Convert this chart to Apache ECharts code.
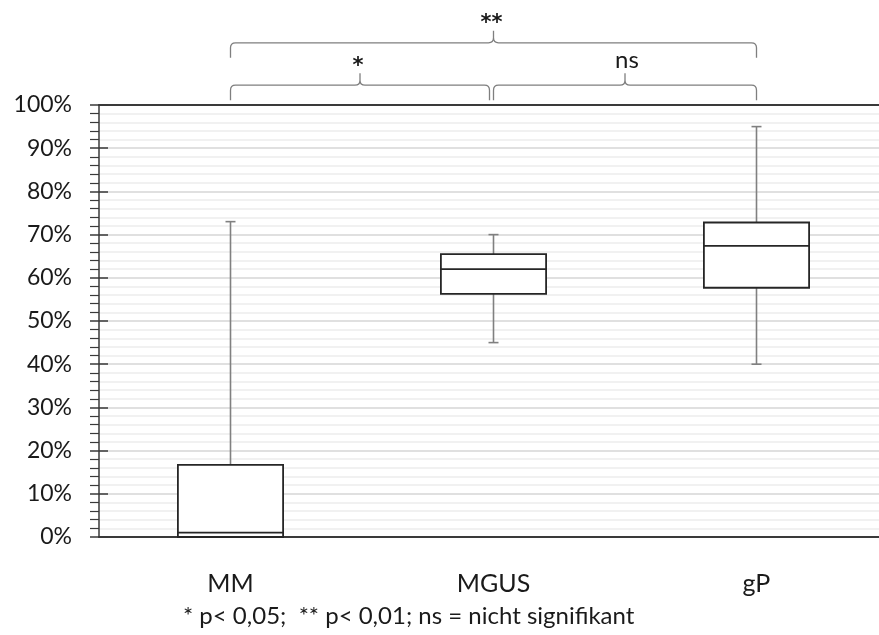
<!DOCTYPE html>
<html>
<head>
<meta charset="utf-8">
<script src="https://cdn.jsdelivr.net/npm/echarts@6/dist/echarts.min.js"></script>
<style>
html,body{margin:0;padding:0;background:#fff;}
#chart{width:879px;height:635px;}
</style>
</head>
<body>
<div id="chart"></div>
<script>
// ---- data ----
const categories = ['MM', 'MGUS', 'gP'];
const whiskerMin = [0.00, 0.45, 0.40];
const q1 = [0.00, 0.563, 0.577];
const median = [0.01, 0.62, 0.674];
const q3 = [0.167, 0.655, 0.728];
const whiskerMax = [0.73, 0.70, 0.95];
const yTickLabels = ['0%', '10%', '20%', '30%', '40%', '50%', '60%', '70%', '80%', '90%', '100%'];

// significance brackets
const bracketFrom = ['MM', 'MGUS', 'MM'];
const bracketTo = ['MGUS', 'gP', 'gP'];
const bracketLevel = [1.046, 1.046, 1.144];
const bracketLabel = ['*', 'ns', '**'];

const footnote = '* p< 0,05;  ** p< 0,01; ns = nicht signifikant';

// ---- chart ----
const FONT = 'Lato';
const chart = echarts.init(document.getElementById('chart'), null, {renderer: 'canvas'});

const boxData = categories.map((c, i) => [i, whiskerMin[i], q1[i], median[i], q3[i], whiskerMax[i]]);
const bracketData = bracketFrom.map((f, i) => [categories.indexOf(f), categories.indexOf(bracketTo[i]), bracketLevel[i], i]);

function renderBox(params, api) {
  const i = api.value(0);
  const x = api.coord([i, 0])[0];
  const pMin = api.coord([i, api.value(1)])[1];
  const pQ1 = api.coord([i, api.value(2)])[1];
  const pMed = api.coord([i, api.value(3)])[1];
  const pQ3 = api.coord([i, api.value(4)])[1];
  const pMax = api.coord([i, api.value(5)])[1];
  const w = api.size([1, 0])[0] * 0.4;
  const cap = 5;
  const whiskerStyle = {stroke: '#808080', lineWidth: 1.6};
  const boxStyle = {stroke: '#262626', lineWidth: 1.8, fill: null};
  const children = [];
  if (Math.abs(pQ3 - pMax) > 0.5) {
    children.push({type: 'line', shape: {x1: x, y1: pQ3, x2: x, y2: pMax}, style: whiskerStyle});
    children.push({type: 'line', shape: {x1: x - cap, y1: pMax, x2: x + cap, y2: pMax}, style: whiskerStyle});
  }
  if (Math.abs(pQ1 - pMin) > 0.5) {
    children.push({type: 'line', shape: {x1: x, y1: pQ1, x2: x, y2: pMin}, style: whiskerStyle});
    children.push({type: 'line', shape: {x1: x - cap, y1: pMin, x2: x + cap, y2: pMin}, style: whiskerStyle});
  }
  children.push({type: 'rect', shape: {x: x - w / 2, y: pQ3, width: w, height: pQ1 - pQ3},
    style: {fill: '#ffffff', stroke: '#262626', lineWidth: 1.8}});
  children.push({type: 'line', shape: {x1: x - w / 2, y1: pMed, x2: x + w / 2, y2: pMed}, style: boxStyle});
  return {type: 'group', children: children};
}

function renderBracket(params, api) {
  const fromIdx = api.value(0);
  const toIdx = api.value(1);
  const level = api.value(2);
  const k = api.value(3);
  let x1 = api.coord([fromIdx, level])[0];
  let x2 = api.coord([toIdx, level])[0];
  const yh = api.coord([fromIdx, level])[1];
  // leave a small gap where another bracket at the same level starts
  for (let j = 0; j < bracketFrom.length; j++) {
    if (j !== k && bracketLevel[j] === bracketLevel[k] && categories.indexOf(bracketFrom[j]) === toIdx) x2 -= 4;
  }
  const drop = 15, tip = 12, r = 5;
  const xm = (x1 + x2) / 2;
  const yb = yh + drop;
  const yt = yh - tip;
  const path = 'M' + x1 + ',' + yb +
    ' L' + x1 + ',' + (yh + r) +
    ' Q' + x1 + ',' + yh + ' ' + (x1 + r) + ',' + yh +
    ' L' + (xm - r) + ',' + yh +
    ' Q' + xm + ',' + yh + ' ' + xm + ',' + (yh - r) +
    ' L' + xm + ',' + yt +
    ' M' + xm + ',' + (yh - r) +
    ' Q' + xm + ',' + yh + ' ' + (xm + r) + ',' + yh +
    ' L' + (x2 - r) + ',' + yh +
    ' Q' + x2 + ',' + yh + ' ' + x2 + ',' + (yh + r) +
    ' L' + x2 + ',' + yb;
  const label = bracketLabel[k];
  const isStar = label.indexOf('*') >= 0;
  const textEl = isStar
    ? {type: 'text', x: xm - 2, y: yt - 7,
        style: {text: label, fontFamily: 'DejaVu Sans', fontWeight: 'bold', fontSize: 21, fill: '#1a1a1a', align: 'center', verticalAlign: 'middle'}}
    : {type: 'text', x: xm + 2, y: yt - 1,
        style: {text: label, fontFamily: FONT, fontSize: 24, fill: '#1a1a1a', align: 'center', verticalAlign: 'bottom'}};
  return {type: 'group', children: [
    {type: 'path', shape: {pathData: path}, style: {stroke: '#7f7f7f', lineWidth: 1.3, fill: null}},
    textEl
  ]};
}

const option = {
  animation: false,
  backgroundColor: '#ffffff',
  grid: {left: 99, top: 105, width: 789, height: 432, containLabel: false, outerBoundsMode: 'none'},
  xAxis: [
    {
      type: 'category', data: categories, position: 'bottom',
      axisLine: {show: true, onZero: false, lineStyle: {color: '#3a3a3a', width: 2}},
      axisTick: {show: false},
      axisLabel: {color: '#1a1a1a', fontFamily: FONT, fontSize: 25, margin: 34},
      splitLine: {show: false}
    },
    {
      type: 'category', data: categories, position: 'top',
      axisLine: {show: true, onZero: false, lineStyle: {color: '#3a3a3a', width: 2}},
      axisTick: {show: false}, axisLabel: {show: false}, splitLine: {show: false}
    }
  ],
  yAxis: [
    {
      type: 'value', min: 0, max: 1, interval: 0.1, position: 'left',
      axisLine: {show: true, onZero: false, lineStyle: {color: '#3a3a3a', width: 1.5}},
      axisTick: {show: true, inside: false, length: 9, lineStyle: {color: '#3a3a3a', width: 1.5}},
      minorTick: {show: true, splitNumber: 5, length: 9, lineStyle: {color: '#3a3a3a', width: 1.2}},
      axisLabel: {color: '#1a1a1a', fontFamily: FONT, fontSize: 23, margin: 27,
        formatter: function (v) { return yTickLabels[Math.round(v * 10)]; }},
      splitLine: {show: true, lineStyle: {color: '#d6d6d6', width: 1.6}},
      minorSplitLine: {show: true, lineStyle: {color: '#ececec', width: 1.6}}
    },
    {
      type: 'value', min: 0, max: 1, interval: 0.1, position: 'left',
      axisLine: {show: false, onZero: false},
      axisTick: {show: true, inside: true, length: 9, lineStyle: {color: '#3a3a3a', width: 1.5}},
      axisLabel: {show: false},
      splitLine: {show: false}
    }
  ],
  series: [
    {
      type: 'custom', name: 'box', xAxisIndex: 0, yAxisIndex: 0,
      data: boxData, renderItem: renderBox,
      encode: {x: 0, y: [1, 2, 3, 4, 5]}, z: 5
    },
    {
      type: 'custom', name: 'brackets', xAxisIndex: 0, yAxisIndex: 0, clip: false,
      data: bracketData, renderItem: renderBracket,
      encode: {x: [0, 1], y: 2}, z: 6
    }
  ],
  graphic: [
    {type: 'text', left: 183, top: 604, z: 10,
      style: {text: footnote, fontFamily: FONT, fontSize: 24, fill: '#1a1a1a'}}
  ]
};
chart.setOption(option);
</script>
</body>
</html>
